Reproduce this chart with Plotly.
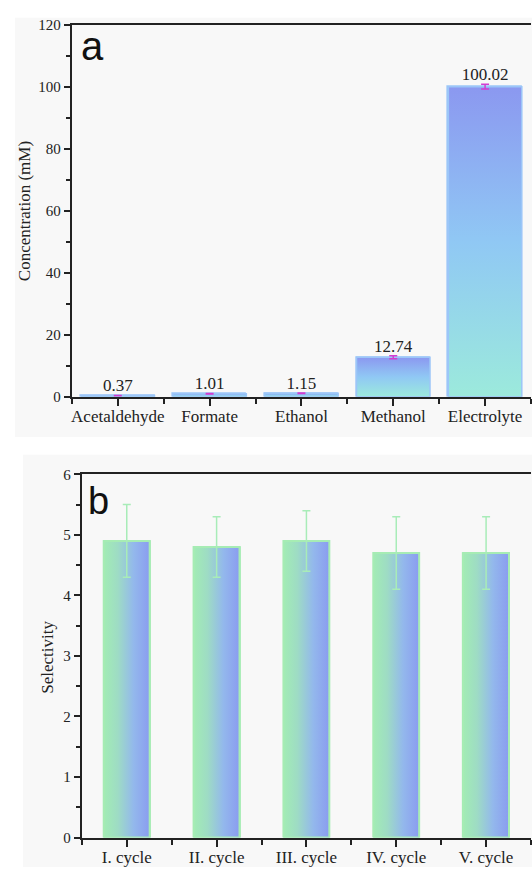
import plotly.graph_objects as go

# ---------------- data ----------------
products = ["Acetaldehyde", "Formate", "Ethanol", "Methanol", "Electrolyte"]
concentration = [0.37, 1.01, 1.15, 12.74, 100.02]
concentration_err = [0.05, 0.08, 0.10, 0.45, 0.75]
concentration_labels = ["0.37", "1.01", "1.15", "12.74", "100.02"]

cycles = ["I. cycle", "II. cycle", "III. cycle", "IV. cycle", "V. cycle"]
selectivity = [4.9, 4.8, 4.9, 4.7, 4.7]
selectivity_err = [0.6, 0.5, 0.5, 0.6, 0.6]

W, H = 532, 875
SERIF = "Liberation Serif, Times New Roman, serif"
SANS = "Liberation Sans, Arial, sans-serif"
INK = "#222222"

fig = go.Figure()

def px_x(p):
    return p / W

def px_y(p):
    return 1 - p / H

# ---------- panel a ----------
wa = 0.8
xa = list(range(len(products)))
fig.add_trace(go.Bar(x=xa, y=concentration, width=wa, marker=dict(color="#92c6f2", line=dict(color="#9cc6f8", width=1.5)),
                     xaxis="x", yaxis="y", showlegend=False, hoverinfo="skip"))
for i, v in zip(xa, concentration):
    fig.add_trace(go.Scatter(
        x=[i - wa / 2, i + wa / 2, i + wa / 2, i - wa / 2, i - wa / 2],
        y=[0, 0, v, v, 0], mode="lines", fill="toself",
        line=dict(color="#9cc6f8", width=1.5),
        fillgradient=dict(type="vertical", colorscale=[[0, "#9ceadc"], [0.5, "#90c8f4"], [1, "#8b98f0"]]),
        xaxis="x", yaxis="y", showlegend=False, hoverinfo="skip"))
fig.add_trace(go.Scatter(x=xa, y=concentration, mode="markers", marker=dict(size=1, opacity=0),
                         error_y=dict(type="data", array=concentration_err, color="#d33cd0", thickness=1.5, width=4),
                         xaxis="x", yaxis="y", showlegend=False, hoverinfo="skip"))
fig.add_trace(go.Scatter(x=xa, y=[v + e for v, e in zip(concentration, concentration_err)],
                         mode="text", text=concentration_labels, textposition="top center",
                         textfont=dict(family=SERIF, size=17, color=INK),
                         xaxis="x", yaxis="y", showlegend=False, hoverinfo="skip"))

# ---------- panel b ----------
wb = 0.51
xb = list(range(len(cycles)))
fig.add_trace(go.Bar(x=xb, y=selectivity, width=wb, marker=dict(color="#98cfd6", line=dict(color="#a6ecb4", width=2)),
                     xaxis="x2", yaxis="y2", showlegend=False, hoverinfo="skip"))
for i, v in zip(xb, selectivity):
    fig.add_trace(go.Scatter(
        x=[i - wb / 2, i + wb / 2, i + wb / 2, i - wb / 2, i - wb / 2],
        y=[0, 0, v, v, 0], mode="lines", fill="toself",
        line=dict(color="#a6ecb4", width=2),
        fillgradient=dict(type="horizontal", colorscale=[[0, "#a2ecb4"], [0.3, "#9edcc4"], [0.65, "#93b8ec"], [1, "#8a9cf0"]]),
        xaxis="x2", yaxis="y2", showlegend=False, hoverinfo="skip"))
fig.add_trace(go.Scatter(x=xb, y=selectivity, mode="markers", marker=dict(size=1, opacity=0),
                         error_y=dict(type="data", array=selectivity_err, color="#a8ecb8", thickness=1.5, width=4),
                         xaxis="x2", yaxis="y2", showlegend=False, hoverinfo="skip"))

axis_common = dict(showline=True, linecolor=INK, linewidth=2, showgrid=False, zeroline=False,
                   ticks="outside", tickcolor=INK, tickwidth=1.5)

fig.update_layout(
    width=W, height=H, margin=dict(l=0, r=0, t=0, b=0),
    paper_bgcolor="white", plot_bgcolor="rgba(0,0,0,0)",
    bargap=0, barmode="overlay",
    xaxis=dict(**axis_common, domain=[px_x(71), px_x(531)], range=[-0.5, 4.5], anchor="y",
               tickmode="array", tickvals=xa, ticktext=products, ticklen=7, mirror=True,
               ticklabelstandoff=-4,
               tickfont=dict(family=SERIF, size=17, color=INK),
               minor=dict(ticks="outside", tick0=0.5, dtick=1, ticklen=5, tickcolor=INK, tickwidth=1.5)),
    yaxis=dict(**axis_common, domain=[px_y(396), px_y(17)], range=[0, 120], anchor="x",
               tickmode="linear", tick0=0, dtick=20, ticklen=6,
               tickfont=dict(family=SERIF, size=15, color=INK),
               minor=dict(ticks="outside", dtick=10, ticklen=4, tickcolor=INK, tickwidth=1.5)),
    xaxis2=dict(**axis_common, domain=[px_x(81), px_x(531)], range=[-0.5, 4.5], anchor="y2",
                tickmode="array", tickvals=xb, ticktext=cycles, ticklen=7, mirror=True,
                ticklabelstandoff=-4,
                tickfont=dict(family=SERIF, size=17, color=INK),
                minor=dict(ticks="outside", tick0=0.5, dtick=1, ticklen=5, tickcolor=INK, tickwidth=1.5)),
    yaxis2=dict(**axis_common, domain=[px_y(845), px_y(475)], range=[0, 6], anchor="x2",
                tickmode="linear", tick0=0, dtick=1, ticklen=6,
                tickfont=dict(family=SERIF, size=15, color=INK),
                minor=dict(ticks="outside", dtick=0.5, ticklen=4, tickcolor=INK, tickwidth=1.5)),
    shapes=[
        dict(type="rect", xref="paper", yref="paper", x0=px_x(14), x1=1, y0=px_y(437), y1=px_y(10),
             fillcolor="#f8f8f8", line=dict(width=0), layer="below"),
        dict(type="rect", xref="paper", yref="paper", x0=px_x(22), x1=1, y0=0, y1=px_y(455),
             fillcolor="#f8f8f8", line=dict(width=0), layer="below"),
    ],
    annotations=[
        dict(text="Concentration (mM)", textangle=-90, xref="paper", yref="paper",
             x=px_x(23), y=px_y(207), xanchor="center", yanchor="middle", showarrow=False,
             font=dict(family=SERIF, size=17, color=INK)),
        dict(text="Selectivity", textangle=-90, xref="paper", yref="paper",
             x=px_x(47), y=px_y(661), xanchor="center", yanchor="middle", showarrow=False,
             font=dict(family=SERIF, size=17, color=INK)),
        dict(text="a", xref="paper", yref="paper", x=px_x(92), y=px_y(39), xanchor="center", yanchor="middle",
             showarrow=False, font=dict(family=SANS, size=40, color="#111111")),
        dict(text="b", xref="paper", yref="paper", x=px_x(98), y=px_y(502), xanchor="center", yanchor="middle",
             showarrow=False, font=dict(family=SANS, size=38, color="#111111")),
    ],
)

fig.write_html(
    "out.html",
    config={"displayModeBar": False},
    post_script=(
        "var gd=document.getElementById('{plot_id}');"
        "gd.style.position='absolute';gd.style.left='0px';gd.style.top='0px';"
        "document.body.style.margin='0';document.body.style.overflow='hidden';"
        "document.documentElement.style.overflow='hidden';"
    ),
)
